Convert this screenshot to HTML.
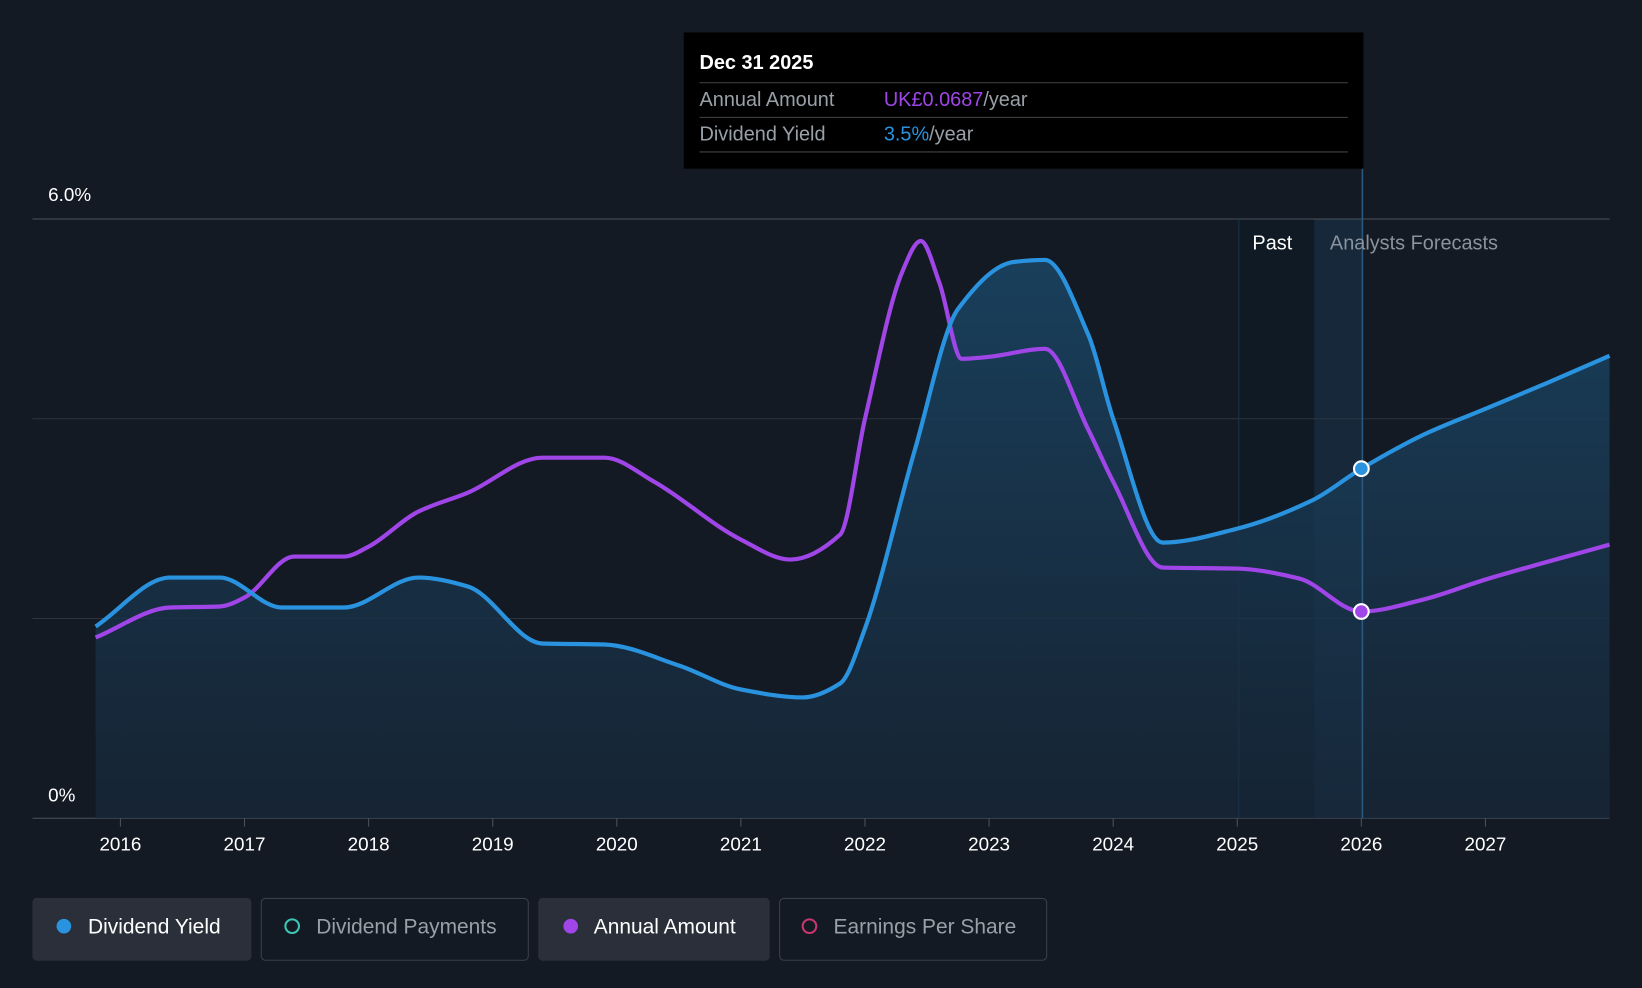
<!DOCTYPE html>
<html><head><meta charset="utf-8"><style>
html,body{margin:0;padding:0;background:#141a23;}
svg{display:block;font-family:"Liberation Sans",Roboto,sans-serif;}
</style></head><body>
<svg id="chart" width="1642" height="988" viewBox="0 0 1568 943" preserveAspectRatio="none" xmlns="http://www.w3.org/2000/svg">
<defs>
<linearGradient id="ag" x1="0" y1="0" x2="0" y2="1"><stop offset="0" stop-color="#1a4666" stop-opacity="0.85"/><stop offset="1" stop-color="#17283a" stop-opacity="0.7"/></linearGradient>
</defs>
<rect width="1568" height="943" fill="#141a23"/>
<rect x="1183" y="209" width="72" height="572" fill="#0f1a25"/>
<rect x="1255" y="209" width="46" height="572" fill="#16283a"/>
<g id="grid"></g>
<path id="area" fill="url(#ag)"/>
<line x1="1183" y1="209" x2="1183" y2="781" stroke="#1a3248" stroke-width="1"/>
<path id="amt" fill="none" stroke="#a046e8" stroke-width="4"/>
<path id="yld" fill="none" stroke="#2a93e0" stroke-width="4"/>
<line x1="1301" y1="160" x2="1301" y2="781" stroke="#2a5a80" stroke-width="1.5"/>
<g id="xt"></g>
<text x="46" y="192" fill="#fff" font-size="18" font-weight="500">6.0%</text>
<text x="46" y="765" fill="#fff" font-size="18" font-weight="500">0%</text>
<text x="1196" y="238" fill="#fff" font-size="19" font-weight="500">Past</text>
<text x="1270" y="238" fill="#8a929c" font-size="19" font-weight="500">Analysts Forecasts</text>
<circle id="dy" r="7" fill="#2a93e0" stroke="#fff" stroke-width="2"/>
<circle id="da" r="7" fill="#a046e8" stroke="#fff" stroke-width="2"/>
<g>
<rect x="653" y="31" width="649" height="130" fill="#000"/>
<text x="668" y="66" fill="#fff" font-size="19" font-weight="bold">Dec 31 2025</text>
<line x1="668" y1="79" x2="1287" y2="79" stroke="#444"/>
<text x="668" y="101" fill="#9aa0a8" font-size="19" font-weight="500">Annual Amount</text>
<text x="844" y="101" font-size="19" font-weight="500"><tspan fill="#a046e8">UK£0.0687</tspan><tspan fill="#9aa0a8">/year</tspan></text>
<line x1="668" y1="112" x2="1287" y2="112" stroke="#444"/>
<text x="668" y="134" fill="#9aa0a8" font-size="19" font-weight="500">Dividend Yield</text>
<text x="844" y="134" font-size="19" font-weight="500"><tspan fill="#2a93e0">3.5%</tspan><tspan fill="#9aa0a8">/year</tspan></text>
<line x1="668" y1="145" x2="1287" y2="145" stroke="#444"/>
</g>
<g>
<g><rect x="31" y="857" width="209" height="60" rx="4" fill="#2a2f39"/><circle cx="61" cy="884" r="7" fill="#2a93e0"/><text x="84" y="891" fill="#fff" font-size="20" font-weight="500">Dividend Yield</text></g>
<g><rect x="249.5" y="857.5" width="255" height="59" rx="4" fill="none" stroke="#3a404a"/><circle cx="279" cy="884" r="6.5" fill="none" stroke="#3cc6b4" stroke-width="2"/><text x="302" y="891" fill="#9aa0a8" font-size="20" font-weight="500">Dividend Payments</text></g>
<g><rect x="514" y="857" width="221" height="60" rx="4" fill="#2a2f39"/><circle cx="545" cy="884" r="7" fill="#a046e8"/><text x="567" y="891" fill="#fff" font-size="20" font-weight="500">Annual Amount</text></g>
<g><rect x="744.5" y="857.5" width="255" height="59" rx="4" fill="none" stroke="#3a404a"/><circle cx="773" cy="884" r="6.5" fill="none" stroke="#c8366e" stroke-width="2"/><text x="796" y="891" fill="#9aa0a8" font-size="20" font-weight="500">Earnings Per Share</text></g>
</g>
</svg>
<script>
const yieldYears=[2015.8,2016.4,2016.8,2017.3,2017.8,2018.4,2018.8,2019.4,2019.9,2020.5,2021.0,2021.5,2021.8,2022.0,2022.4,2022.75,2023.2,2023.45,2023.8,2024.0,2024.4,2025.0,2025.6,2026.0,2026.5,2027.0,2027.5,2028.0];
const yieldValues=[1.92,2.41,2.41,2.11,2.11,2.41,2.32,1.75,1.74,1.53,1.29,1.21,1.35,1.9,3.68,5.1,5.57,5.59,4.84,4.0,2.76,2.9,3.18,3.5,3.84,4.1,4.36,4.63];
const amountYears=[2015.8,2016.4,2016.8,2017.0,2017.4,2017.8,2018.0,2018.4,2018.8,2019.4,2019.9,2020.3,2021.0,2021.4,2021.8,2022.0,2022.3,2022.45,2022.6,2022.78,2023.0,2023.45,2023.8,2024.0,2024.4,2025.0,2025.5,2026.0,2026.5,2027.0,2028.0];
const amountValues=[1.81,2.11,2.12,2.21,2.62,2.62,2.72,3.07,3.26,3.61,3.61,3.37,2.79,2.59,2.84,4.0,5.47,5.78,5.36,4.6,4.62,4.7,3.89,3.37,2.51,2.5,2.4,2.07,2.19,2.39,2.74];
const tickYears=[2016,2017,2018,2019,2020,2021,2022,2023,2024,2025,2026,2027];
const gridValues=[2,4,6];
const NS="http://www.w3.org/2000/svg";
const X=y=>115+(y-2016)*118.5, Y=v=>781-v*95.33;
function mono(xs,ys){const n=xs.length,d=[],m=[];for(let i=0;i<n-1;i++)d.push((ys[i+1]-ys[i])/(xs[i+1]-xs[i]));m[0]=d[0];m[n-1]=d[n-2];for(let i=1;i<n-1;i++)m[i]=d[i-1]*d[i]<=0?0:2/(1/d[i-1]+1/d[i]);
let p=`M${xs[0]},${ys[0]}`;for(let i=0;i<n-1;i++){const h=(xs[i+1]-xs[i])/3;p+=`C${xs[i]+h},${ys[i]+m[i]*h} ${xs[i+1]-h},${ys[i+1]-m[i+1]*h} ${xs[i+1]},${ys[i+1]}`;}return p;}
const yx=yieldYears.map(X),yy=yieldValues.map(Y),ax=amountYears.map(X),ay=amountValues.map(Y);
const yp=mono(yx,yy);
document.getElementById('yld').setAttribute('d',yp);
document.getElementById('area').setAttribute('d',yp+`L${yx[yx.length-1]},781L${yx[0]},781Z`);
document.getElementById('amt').setAttribute('d',mono(ax,ay));
const g=document.getElementById('grid');
gridValues.forEach(v=>{const l=document.createElementNS(NS,'line');l.setAttribute('x1',31);l.setAttribute('x2',1537);l.setAttribute('y1',Y(v));l.setAttribute('y2',Y(v));l.setAttribute('stroke',v==6?'#4a525c':'#2c3440');


g.appendChild(l);});
const base=document.createElementNS(NS,'line');base.setAttribute('x1',31);base.setAttribute('x2',1537);base.setAttribute('y1',781);base.setAttribute('y2',781);base.setAttribute('stroke','#4a525c');


g.appendChild(base);
const xt=document.getElementById('xt');
tickYears.forEach(t=>{const l=document.createElementNS(NS,'line');l.setAttribute('x1',X(t));l.setAttribute('x2',X(t));l.setAttribute('y1',781);l.setAttribute('y2',789);l.setAttribute('stroke','#4a525c');


xt.appendChild(l);
const s=document.createElementNS(NS,'text');s.setAttribute('x',X(t));s.setAttribute('y',812);s.setAttribute('text-anchor','middle');s.setAttribute('fill','#fff');s.setAttribute('font-size','18');s.setAttribute('font-weight','500');s.textContent=t;


xt.appendChild(s);});
const i1=yieldYears.indexOf(2026.0),i2=amountYears.indexOf(2026.0);
const dy=document.getElementById('dy');dy.setAttribute('cx',X(2026));dy.setAttribute('cy',Y(yieldValues[i1]));
const da=document.getElementById('da');da.setAttribute('cx',X(2026));da.setAttribute('cy',Y(amountValues[i2]));
</script>
</body></html>
